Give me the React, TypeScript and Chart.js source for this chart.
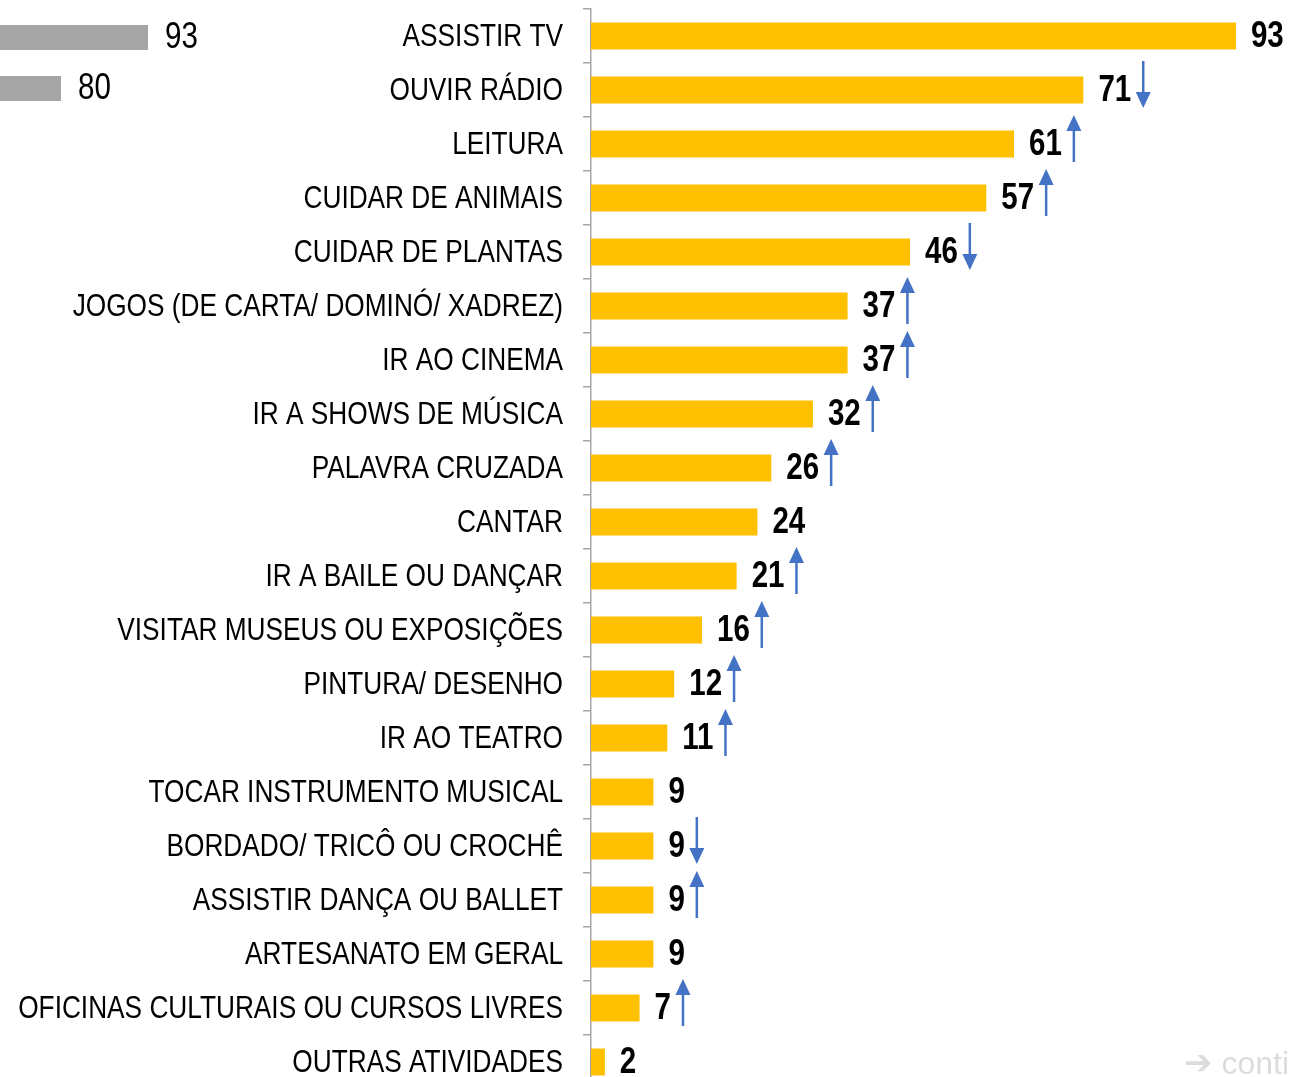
import React, { useEffect, useRef } from "react";
import { Chart, registerables } from "chart.js";

Chart.register(...registerables);

const categories = [
  "ASSISTIR TV",
  "OUVIR RÁDIO",
  "LEITURA",
  "CUIDAR DE ANIMAIS",
  "CUIDAR DE PLANTAS",
  "JOGOS (DE CARTA/ DOMINÓ/ XADREZ)",
  "IR AO CINEMA",
  "IR A SHOWS DE MÚSICA",
  "PALAVRA CRUZADA",
  "CANTAR",
  "IR A BAILE OU DANÇAR",
  "VISITAR MUSEUS OU EXPOSIÇÕES",
  "PINTURA/ DESENHO",
  "IR AO TEATRO",
  "TOCAR INSTRUMENTO MUSICAL",
  "BORDADO/ TRICÔ OU CROCHÊ",
  "ASSISTIR DANÇA OU BALLET",
  "ARTESANATO EM GERAL",
  "OFICINAS CULTURAIS OU CURSOS LIVRES",
  "OUTRAS ATIVIDADES",
];

const values = [93, 71, 61, 57, 46, 37, 37, 32, 26, 24, 21, 16, 12, 11, 9, 9, 9, 9, 7, 2];

// trend vs. previous survey: "up", "down" or "" (none)
const trends = [
  "", "down", "up", "up", "down", "up", "up", "up", "up", "",
  "up", "up", "up", "up", "", "down", "up", "", "up", "",
];

// fragment of the previous (grey) chart visible at top-left
const prevCategories = ["a", "b"];
const prevValues = [93, 80];

const BASE_FONT = '"Liberation Sans", Arial, sans-serif';
const NARROW = 0.82; // Arial Narrow ≈ Arial condensed horizontally

function narrowText(ctx: any, txt: string, x: number, y: number, align: "left" | "right") {
  ctx.save();
  ctx.translate(x, y);
  ctx.scale(NARROW, 1);
  ctx.textAlign = align;
  ctx.fillText(txt, 0, 0);
  ctx.restore();
}

const valueLabelPlugin = {
  id: "valueLabels",
  afterDatasetsDraw(chart: any, _args: any, opts: any) {
    const ctx = chart.ctx;
    const meta = chart.getDatasetMeta(0);
    const data = chart.data.datasets[0].data;
    ctx.save();
    ctx.textBaseline = "middle";

    // category labels (right-aligned, narrow)
    if (opts.categoryLabels) {
      const yScale = chart.scales.y;
      ctx.font = `normal 32px ${BASE_FONT}`;
      ctx.fillStyle = "#000";
      chart.data.labels.forEach((lab: string, i: number) => {
        narrowText(ctx, lab, chart.chartArea.left - 28, yScale.getPixelForValue(i) + 1, "right");
      });
    }

    ctx.font = `${opts.weight || "normal"} ${opts.size || 35}px ${BASE_FONT}`;
    meta.data.forEach((bar: any, i: number) => {
      const txt = String(data[i]);
      const x = bar.x + (opts.gap || 15);
      const y = bar.y + 1;
      ctx.fillStyle = opts.color || "#000";
      narrowText(ctx, txt, x, y, "left");
      const tr = opts.trends ? opts.trends[i] : "";
      if (tr) {
        const w = ctx.measureText(txt).width * NARROW;
        const ax = x + w + 12;
        const top = bar.y - 29;
        const bottom = bar.y + 18;
        ctx.strokeStyle = "#4472C4";
        ctx.fillStyle = "#4472C4";
        ctx.lineWidth = 2.5;
        ctx.beginPath();
        if (tr === "up") {
          ctx.moveTo(ax, bottom);
          ctx.lineTo(ax, top + 12);
          ctx.stroke();
          ctx.beginPath();
          ctx.moveTo(ax, top);
          ctx.lineTo(ax - 7.5, top + 16);
          ctx.lineTo(ax + 7.5, top + 16);
          ctx.closePath();
          ctx.fill();
        } else {
          ctx.moveTo(ax, top);
          ctx.lineTo(ax, bottom - 12);
          ctx.stroke();
          ctx.beginPath();
          ctx.moveTo(ax, bottom);
          ctx.lineTo(ax - 7.5, bottom - 16);
          ctx.lineTo(ax + 7.5, bottom - 16);
          ctx.closePath();
          ctx.fill();
        }
      }
    });
    ctx.restore();
  },
};

export default function App() {
  const mainRef = useRef<HTMLCanvasElement | null>(null);
  const prevRef = useRef<HTMLCanvasElement | null>(null);

  useEffect(() => {
    const main = new Chart(mainRef.current as HTMLCanvasElement, {
      type: "bar",
      data: {
        labels: categories,
        datasets: [
          {
            data: values,
            backgroundColor: "#FFC000",
            categoryPercentage: 1,
            barPercentage: 0.5,
          },
        ],
      },
      options: {
        indexAxis: "y",
        responsive: false,
        animation: false,
        devicePixelRatio: 1,
        layout: { padding: { top: 9, bottom: 1, left: 0, right: 6.5 } },
        plugins: {
          legend: { display: false },
          tooltip: { enabled: false },
          valueLabels: { weight: "bold", size: 36, gap: 15, trends, categoryLabels: true },
        } as any,
        scales: {
          x: { display: false, min: 0, max: 100 },
          y: {
            afterFit: (s: any) => {
              s.width = 591;
              s.paddingTop = 0;
              s.paddingBottom = 0;
            },
            border: { color: "#A6A6A6", width: 1.5 },
            grid: {
              drawOnChartArea: false,
              drawTicks: true,
              tickLength: 8,
              color: "#A6A6A6",
              lineWidth: 1.5,
              offset: true,
            },
            ticks: {
              display: false,
              autoSkip: false,
            },
          },
        },
      },
      plugins: [valueLabelPlugin],
    });

    const prev = new Chart(prevRef.current as HTMLCanvasElement, {
      type: "bar",
      data: {
        labels: prevCategories,
        datasets: [
          {
            data: prevValues,
            backgroundColor: "#A5A5A5",
            categoryPercentage: 1,
            barPercentage: 0.49,
          },
        ],
      },
      options: {
        indexAxis: "y",
        responsive: false,
        animation: false,
        devicePixelRatio: 1,
        layout: { padding: { top: 12, bottom: 1, left: 0, right: 0 } },
        plugins: {
          legend: { display: false },
          tooltip: { enabled: false },
          valueLabels: { weight: "normal", size: 36, gap: 17 },
        } as any,
        scales: {
          x: { display: false, min: 70.88, max: 105.25 },
          y: { display: false },
        },
      },
      plugins: [valueLabelPlugin],
    });

    return () => {
      main.destroy();
      prev.destroy();
    };
  }, []);

  return (
    <div
      style={{
        position: "absolute",
        left: 0,
        top: 0,
        width: 1291,
        height: 1077,
        overflow: "hidden",
        background: "#fff",
      }}
    >
      <canvas
        ref={mainRef}
        width={1291}
        height={1090}
        style={{ position: "absolute", left: 0, top: 0, width: 1291, height: 1090 }}
      />
      <canvas
        ref={prevRef}
        width={230}
        height={115}
        style={{ position: "absolute", left: 0, top: 0, width: 230, height: 115 }}
      />
      <div
        style={{
          position: "absolute",
          left: 1184,
          top: 1044,
          color: "#DCDCDC",
          font: '32px "Liberation Sans", Arial, sans-serif',
          whiteSpace: "nowrap",
          lineHeight: "36px",
        }}
      >
        <span style={{ fontFamily: '"DejaVu Sans", sans-serif', fontWeight: "bold", fontSize: 34 }}>➔</span> conti
      </div>
    </div>
  );
}
